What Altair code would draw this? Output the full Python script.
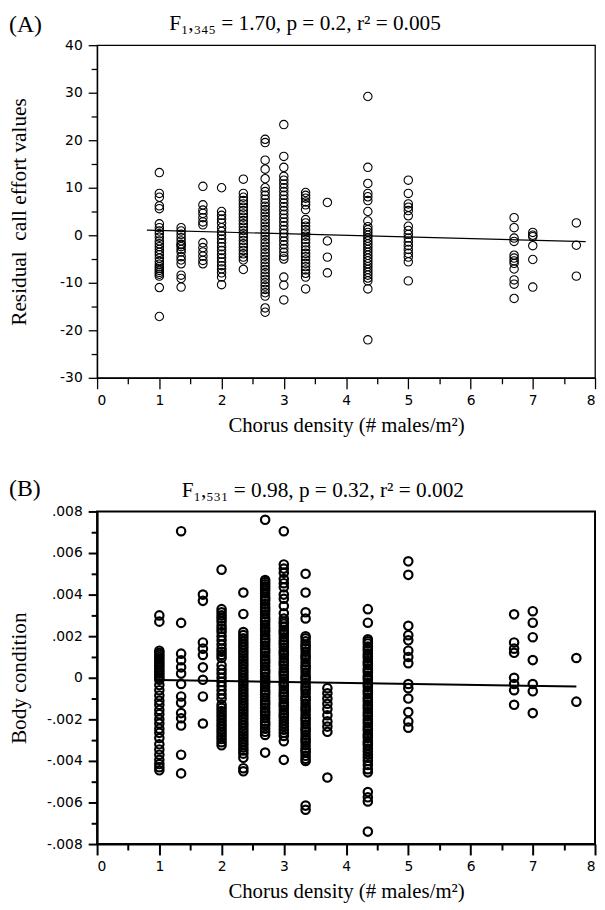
import altair as alt
import pandas as pd

# ---------------- data ----------------
# Panel A: residual call effort values by chorus density
A_X = [1.0, 1.35, 1.7, 2.0, 2.35, 2.7, 3.0, 3.35, 3.7, 4.35, 5.0, 6.7, 7.0, 7.7]
A_1_00 = [13.2, 8.8, 8.0, 6.2, 5.6, 2.4, 1.6, 0.9, 0.3, -0.4, -1.2, -1.8, -2.4, -3.0, -3.6,
          -4.1, -4.8, -5.5, -6.1, -6.6, -7.0, -7.4, -7.8, -8.2, -8.6, -11.0, -17.1]
A_1_35 = [1.6, 0.9, 0.2, -0.5, -1.2, -1.9, -2.0, -2.4, -3.0, -3.5, -4.5, -5.2, -6.0, -8.4, -9.1, -10.9]
A_1_70 = [10.3, 6.4, 5.3, 4.6, 3.7, 2.8, 2.2, -1.6, -2.6, -3.5, -4.4, -5.3, -6.0]
A_2_00 = [10.0, 5.0, 4.2, 3.4, 2.6, 1.6, 0.8, 0.0, -0.8, -1.6, -2.4, -3.2, -4.0, -4.8, -5.6,
          -6.4, -7.1, -7.9, -8.8, -10.4]
A_2_35 = [11.8, 8.8, 8.0, 7.3, 6.6, 5.9, 5.2, 4.5, 3.8, 3.1, 2.4, 1.7, 1.0, 0.3, -0.4, -1.1,
          -1.8, -2.5, -3.2, -3.9, -4.6, -5.2, -7.2]
A_2_70 = [20.2, 19.5, 15.8, 13.9, 11.9, 10.0, 9.2, 8.4, 7.6, 6.8, 6.1, 5.4, 4.7, 4.0, 3.3, 2.6,
          1.9, 1.2, 0.5, -0.2, -0.9, -1.6, -2.3, -3.0, -3.7, -4.4, -5.1, -5.8, -6.5, -7.2, -7.9,
          -8.6, -9.3, -10.0, -10.7, -11.4, -12.1, -12.8, -15.3, -16.2]
A_3_00 = [23.3, 16.6, 14.3, 12.4, 11.6, 10.8, 10.0, 9.2, 8.4, 7.6, 6.8, 6.0, 5.2, 4.4, 3.6, 2.8,
          2.0, 1.2, 0.4, -0.4, -1.2, -2.0, -2.8, -3.6, -4.4, -5.0, -8.8, -10.5, -13.6]
A_3_35 = [9.0, 8.4, 7.8, 7.0, 6.4, 5.4, 3.3, 2.6, 1.9, 1.2, 0.5, -0.2, -0.9, -1.6, -2.4, -3.1,
          -3.8, -4.5, -5.2, -5.9, -6.6, -7.3, -8.0, -8.8, -11.3]
A_3_70 = [6.9, -1.2, -4.6, -7.9]
A_4_35 = [29.2, 14.3, 10.9, 8.8, 8.1, 7.3, 5.0, 3.0, 1.8, 1.2, 0.6, 0.0, -0.6, -1.2, -1.8, -2.4,
          -3.0, -3.6, -4.2, -4.8, -5.4, -6.0, -6.6, -7.2, -7.8, -8.4, -9.0, -9.6, -11.3, -22.0]
A_5_00 = [11.6, 8.8, 6.6, 5.9, 5.2, 4.1, 1.9, 1.0, 0.2, -0.6, -1.4, -2.2, -3.0, -3.8, -4.6, -5.6, -9.6]
A_6_70 = [3.7, 1.6, -0.6, -1.3, -4.2, -4.8, -5.4, -5.9, -7.1, -9.4, -10.3, -13.3]
A_7_00 = [0.6, 0.0, -0.3, -2.2, -5.1, -10.9]
A_7_70 = [2.6, -2.1, -8.6]
A_COLS = [A_1_00, A_1_35, A_1_70, A_2_00, A_2_35, A_2_70, A_3_00, A_3_35, A_3_70, A_4_35,
          A_5_00, A_6_70, A_7_00, A_7_70]
FIT_A_X = [0.8, 7.85]
FIT_A_Y = [1.07, -1.33]

# Panel B: body condition (values in thousandths, e.g. 3.0 -> .003)
B_X = [1.0, 1.35, 1.7, 2.0, 2.35, 2.7, 3.0, 3.35, 3.7, 4.35, 5.0, 6.7, 7.0, 7.7]
B_1_00 = [3.0, 2.7, 1.3, 1.2, 1.1, 1.0, 0.9, 0.8, 0.7, 0.6, 0.5, 0.4, 0.3, 0.2, 0.1, 0.0, -0.1,
          -0.35, -0.6, -0.85, -1.1, -1.3, -1.55, -1.75, -2.0, -2.2, -2.45, -2.65, -2.9, -3.2,
          -3.45, -3.7, -3.95, -4.15, -4.3, -4.45]
B_1_35 = [7.05, 2.64, 1.16, 0.84, 0.5, 0.2, -0.3, -0.9, -1.2, -1.7, -1.95, -2.3, -3.7, -4.6]
B_1_70 = [4.0, 3.7, 1.7, 1.4, 1.1, 0.5, -0.1, -0.9, -2.2]
B_2_00 = [5.2, 3.3, 3.15, 3.0, 2.85, 2.7, 2.5, 2.35, 2.2, 2.0, 1.8, 1.6, 1.4, 1.25, 1.1, 0.95,
          0.6, 0.4, 0.2, 0.0, -0.2, -0.4, -0.6, -0.8, -1.0, -1.3, -1.45, -1.6, -1.75, -1.9,
          -2.05, -2.2, -2.35, -2.5, -2.65, -2.8, -2.95, -3.1, -3.25]
B_2_35 = [4.1, 3.07, 2.2, 2.05, 1.9, 1.75, 1.6, 1.45, 1.3, 1.15, 1.0, 0.85, 0.7, 0.55, 0.4, 0.25,
          0.1, -0.05, -0.2, -0.35, -0.5, -0.65, -0.8, -0.95, -1.1, -1.25, -1.4, -1.55, -1.7,
          -1.85, -2.0, -2.15, -2.3, -2.45, -2.6, -2.75, -2.9, -3.05, -3.2, -3.35, -3.5, -3.65,
          -3.85, -4.35, -4.5]
B_2_70 = [7.6, 4.7, 4.6, 4.5, 4.4, 4.3, 4.2, 4.05, 3.9, 3.8, 3.7, 3.55, 3.4, 3.3, 3.2, 3.05, 2.9,
          2.8, 2.7, 2.55, 2.4, 2.3, 2.2, 2.05, 1.9, 1.8, 1.7, 1.55, 1.4, 1.3, 1.2, 1.05, 0.9, 0.8,
          0.7, 0.55, 0.4, 0.3, 0.2, 0.05, -0.1, -0.2, -0.3, -0.45, -0.6, -0.7, -0.8, -0.95, -1.1,
          -1.2, -1.3, -1.45, -1.6, -1.7, -1.8, -1.95, -2.1, -2.2, -2.3, -2.45, -2.6, -2.75, -3.6]
B_3_00 = [7.05, 5.45, 5.25, 5.05, 4.75, 4.55, 4.35, 4.0, 3.8, 3.45, 3.1, 2.85, 2.7, 2.6, 2.45,
          2.3, 2.2, 2.1, 1.95, 1.8, 1.7, 1.6, 1.45, 1.3, 1.2, 1.1, 0.95, 0.8, 0.7, 0.6, 0.45, 0.3,
          0.2, 0.1, -0.05, -0.2, -0.3, -0.4, -0.55, -0.7, -0.8, -0.9, -1.05, -1.2, -1.3, -1.4,
          -1.55, -1.7, -1.8, -1.9, -2.05, -2.2, -2.35, -2.5, -2.65, -2.8, -3.05, -3.95]
B_3_35 = [5.0, 4.1, 3.15, 2.85, 2.0, 1.9, 1.75, 1.6, 1.5, 1.4, 1.25, 1.1, 1.0, 0.9, 0.75, 0.6,
          0.5, 0.4, 0.25, 0.1, 0.0, -0.1, -0.25, -0.4, -0.5, -0.6, -0.75, -0.9, -1.0, -1.1,
          -1.25, -1.4, -1.5, -1.6, -1.75, -1.9, -2.0, -2.1, -2.25, -2.4, -2.5, -2.6, -2.75,
          -2.9, -3.0, -3.1, -3.25, -3.4, -3.5, -3.6, -3.75, -3.9, -4.0, -6.15, -6.35]
B_3_70 = [-0.5, -0.75, -1.0, -1.25, -1.5, -1.8, -2.1, -2.35, -2.6, -4.8]
B_4_35 = [3.3, 2.65, 1.85, 1.75, 1.65, 1.5, 1.4, 1.3, 1.15, 1.05, 0.95, 0.8, 0.7, 0.6, 0.45, 0.35,
          0.25, 0.1, 0.0, -0.1, -0.25, -0.35, -0.45, -0.6, -0.7, -0.8, -0.95, -1.05, -1.15, -1.3,
          -1.4, -1.5, -1.65, -1.75, -1.85, -2.0, -2.1, -2.2, -2.35, -2.45, -2.55, -2.7, -2.8,
          -2.9, -3.05, -3.15, -3.25, -3.4, -3.55, -3.7, -3.85, -4.0, -4.2, -4.4, -4.55, -5.5,
          -5.75, -5.95, -7.4]
B_5_00 = [5.6, 4.95, 2.5, 2.05, 1.8, 1.3, 1.0, 0.7, -0.3, -0.5, -1.0, -1.65, -2.1, -2.4]
B_6_70 = [3.05, 1.7, 1.4, 1.2, 0.0, -0.3, -0.6, -1.3]
B_7_00 = [3.2, 2.65, 1.95, 0.85, -0.3, -0.65, -1.7]
B_7_70 = [0.95, -1.15]
B_COLS = [B_1_00, B_1_35, B_1_70, B_2_00, B_2_35, B_2_70, B_3_00, B_3_35, B_3_70, B_4_35,
          B_5_00, B_6_70, B_7_00, B_7_70]
FIT_B_X = [1.0, 7.7]
FIT_B_Y = [-0.11, -0.42]

X_TICKS = [0, 1, 2, 3, 4, 5, 6, 7, 8]
X_MINOR = [0.5, 1.5, 2.5, 3.5, 4.5, 5.5, 6.5, 7.5]
A_Y_TICKS = [-30, -20, -10, 0, 10, 20, 30, 40]
A_Y_MINOR = [-25, -15, -5, 5, 15, 25, 35]
B_Y_TICKS = [-0.008, -0.006, -0.004, -0.002, 0, 0.002, 0.004, 0.006, 0.008]
B_Y_MINOR = [-0.007, -0.005, -0.003, -0.001, 0.001, 0.003, 0.005, 0.007]

PANEL_A = ["(A)"]
PANEL_B = ["(B)"]
STAT_A = ["F\u2081,\u2083\u2084\u2085 = 1.70, p = 0.2, r\u00b2 = 0.005"]
STAT_B = ["F\u2081,\u2085\u2083\u2081 = 0.98, p = 0.32, r\u00b2 = 0.002"]
X_TITLE = "Chorus density (# males/m\u00b2)"
A_Y_TITLE = "Residual\u00a0 call effort values"
B_Y_TITLE = "Body condition"

# ---------------- tables ----------------
def long_table(xs, cols, scale=1.0):
    rows = []
    for x, vals in zip(xs, cols):
        for v in vals:
            rows.append({"x": x, "y": v * scale})
    return pd.DataFrame(rows)

df_a = long_table(A_X, A_COLS)
df_b = long_table(B_X, B_COLS, 0.001)
fit_a = pd.DataFrame({"x": FIT_A_X, "y": FIT_A_Y})
fit_b = pd.DataFrame({"x": FIT_B_X, "y": [v * 0.001 for v in FIT_B_Y]})

W, H = 503, 336
SERIF = "Liberation Serif"
SANS = "DejaVu Sans"

xscale = alt.Scale(domain=[0, 8], nice=False, zero=False)

A_LABEL_EXPR = "datum.value < 0 ? '-' + abs(datum.value) : '' + datum.value"
B_LABEL_EXPR = ("datum.value == 0 ? '0' : (datum.value < 0 ? '-' : '') + '.00' + "
                "round(abs(datum.value) * 1000)")


def panel(df, fit, yscale, yticks, yminor, yexpr, ytitle, label, label_y, stat, stat_x,
          pt_size, pt_sw, line_w, frame_w):
    common = dict(tickColor="black", domainColor="black", grid=False)
    x_major = alt.Axis(values=X_TICKS, orient="bottom", title=X_TITLE, tickSize=11,
                       tickWidth=frame_w, domainWidth=frame_w, labelFont=SANS,
                       labelFontSize=14, labelColor="black", labelPadding=5,
                       titleFont=SERIF, titleFontSize=21, titleFontWeight="normal",
                       titleColor="black", titleY=54, titleBaseline="alphabetic",
                       **common)
    x_minor = alt.Axis(values=X_MINOR, orient="bottom", title=None, labels=False,
                       domain=False, tickSize=6, tickWidth=frame_w, **common)
    y_major = alt.Axis(values=yticks, orient="left", title=ytitle, tickSize=9,
                       tickWidth=frame_w, domainWidth=frame_w, labelFont=SANS,
                       labelFontSize=14, labelColor="black", labelPadding=6,
                       labelExpr=yexpr, titleFont=SERIF, titleFontSize=21.5,
                       titleFontWeight="normal", titleColor="black", titleX=-78,
                       titleBaseline="middle", **common)
    y_minor = alt.Axis(values=yminor, orient="left", title=None, labels=False,
                       domain=False, tickSize=6, tickWidth=frame_w, **common)

    pts = alt.Chart(df).mark_point(shape="circle", filled=False, color="black",
                                   size=pt_size, strokeWidth=pt_sw, opacity=1).encode(
        x=alt.X("x:Q", scale=xscale, axis=x_major),
        y=alt.Y("y:Q", scale=yscale, axis=y_major),
    )
    line = alt.Chart(fit).mark_line(color="black", strokeWidth=line_w).encode(
        x=alt.X("x:Q", scale=xscale, axis=x_minor),
        y=alt.Y("y:Q", scale=yscale, axis=y_minor),
    )
    lab = alt.Chart(pd.DataFrame({"t": label})).mark_text(
        font=SERIF, fontSize=24, align="left", baseline="alphabetic", color="black"
    ).encode(x=alt.value(-89), y=alt.value(label_y), text="t:N")
    st = alt.Chart(pd.DataFrame({"t": stat})).mark_text(
        font=SERIF, fontSize=21.5, align="center", baseline="alphabetic", color="black"
    ).encode(x=alt.value(stat_x), y=alt.value(-15), text="t:N")
    return alt.layer(pts, line, lab, st).resolve_axis(
        x="independent", y="independent"
    ).properties(width=W, height=H,
                 view=alt.ViewBackground(stroke="black", strokeWidth=frame_w))


chart_a = panel(df_a, fit_a, alt.Scale(domain=[-30, 40], nice=False, zero=False),
                A_Y_TICKS, A_Y_MINOR, A_LABEL_EXPR, A_Y_TITLE, PANEL_A, -13, STAT_A, 210,
                72, 1.1, 1.2, 1.3)
chart_b = panel(df_b, fit_b, alt.Scale(domain=[-0.008, 0.008], nice=False, zero=False),
                B_Y_TICKS, B_Y_MINOR, B_LABEL_EXPR, B_Y_TITLE, PANEL_B, -16, STAT_B, 228,
                72, 2.2, 2.0, 2.0)

chart = alt.vconcat(chart_a, chart_b, spacing=40).properties(
    padding={"left": 0, "top": 0, "right": 0, "bottom": 0},
    background="white",
)
chart.save("out.html", embed_options={"renderer": "svg", "actions": False})
